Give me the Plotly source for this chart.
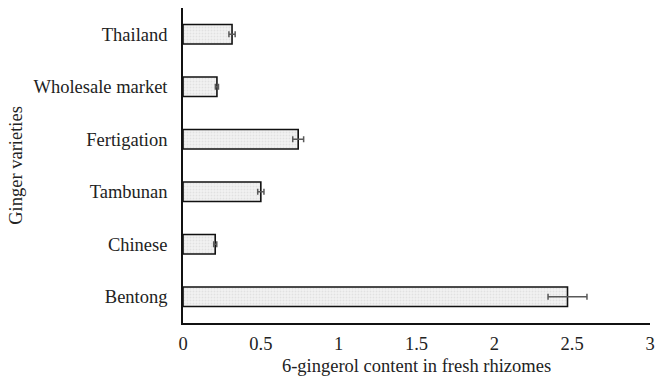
import plotly.graph_objects as go

# 6-gingerol content by ginger variety (bottom to top)
varieties = ["Bentong", "Chinese", "Tambunan", "Fertigation", "Wholesale market", "Thailand"]
gingerol = [2.47, 0.207, 0.50, 0.74, 0.218, 0.315]
gingerol_err = [0.125, 0.01, 0.02, 0.035, 0.01, 0.02]

x_ticks = [0, 0.5, 1, 1.5, 2, 2.5, 3]
x_tick_text = ["0", "0.5", "1", "1.5", "2", "2.5", "3"]

font_family = "Liberation Serif"
title_font = dict(family=font_family, size=18.5, color="#222222")

fig = go.Figure(
    go.Bar(
        x=gingerol,
        y=varieties,
        orientation="h",
        width=0.37,
        marker=dict(
            color="#f0f0f0",
            line=dict(color="#111111", width=1.6),
            pattern=dict(shape=".", fgcolor="#cfcfcf", bgcolor="#f2f2f2", size=3, solidity=0.3),
        ),
        error_x=dict(
            type="data",
            array=gingerol_err,
            color="#595959",
            thickness=1.5,
            width=3,
        ),
    )
)

fig.update_layout(
    width=656,
    height=381,
    margin=dict(l=183, r=6, t=8, b=58),
    paper_bgcolor="white",
    plot_bgcolor="white",
    showlegend=False,
    font=dict(family=font_family, size=18.5, color="#222222"),
    xaxis=dict(
        range=[0, 3],
        tickvals=x_ticks,
        ticktext=x_tick_text,
        showgrid=False,
        zeroline=False,
        showline=True,
        linecolor="#111111",
        linewidth=1.6,
        ticks="",
        automargin=False,
        ticklabelstandoff=3,
        title=dict(text="6-gingerol content in fresh rhizomes", standoff=6, font=title_font),
    ),
    yaxis=dict(
        categoryorder="array",
        categoryarray=varieties,
        range=[-0.5, 5.5],
        showgrid=False,
        zeroline=False,
        showline=True,
        linecolor="#111111",
        linewidth=1.6,
        ticks="",
        automargin=False,
        ticklabelstandoff=10,
        title=dict(text="Ginger varieties", standoff=6, font=title_font),
    ),
)

fig.write_html("out.html")
